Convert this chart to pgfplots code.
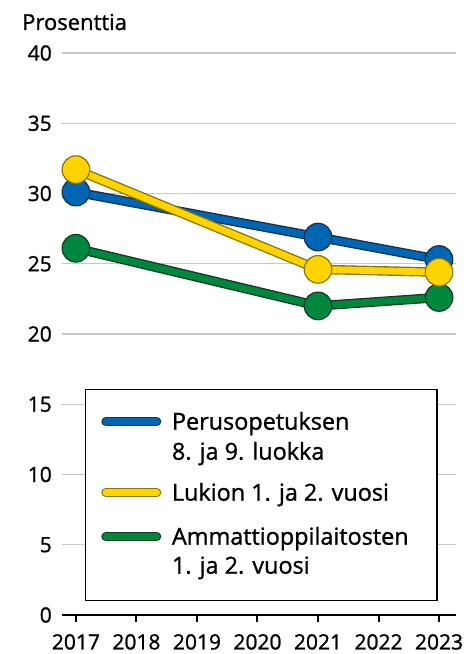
\documentclass[border=0pt]{standalone}
\usepackage{fontspec}
\setmainfont{Open Sans}[RawFeature={embolden=1.1}]
\usepackage{pgfplots}
\usepackage{pgfplotstable}
\pgfplotsset{compat=1.18}
\definecolor{cBlue}{HTML}{0066B3}
\definecolor{dBlue}{HTML}{14304F}
\definecolor{cYel}{HTML}{FFD400}
\definecolor{dYel}{HTML}{8C7400}
\definecolor{cGrn}{HTML}{00873D}
\definecolor{dGrn}{HTML}{0E3D20}
\definecolor{gridc}{HTML}{C8C8C8}

\pgfplotstableread{
year val
2017 30.1
2021 26.9
2023 25.3
}\perus
\pgfplotstableread{
year val
2017 31.7
2021 24.6
2023 24.4
}\lukio
\pgfplotstableread{
year val
2017 26.1
2021 22.0
2023 22.6
}\ammatti

\pgfplotsset{
  leglinestyle/.style 2 args={legend image code/.code={
    \path (0bp,0bp) (60bp,0bp);
    \draw[line width=9bp, #1, line cap=round] (4.5bp,8bp) -- (55.5bp,8bp);
    \draw[line width=6.5bp, #2, line cap=round] (4.5bp,8bp) -- (55.5bp,8bp);
  }},
  outl/.style={forget plot, line width=9.5bp, #1, line join=round},
  inl/.style 2 args={forget plot, line width=6.8bp, #2, line join=round, mark=*, mark size=13.8bp,
     mark options={fill=#2, draw=#1, line width=1.2bp, solid}},
}

\begin{document}
\begin{tikzpicture}
\useasboundingbox (0,0) rectangle (466bp,654bp);
\begin{axis}[
  at={(62bp,39bp)}, anchor=south west,
  scale only axis, width=394bp, height=562bp,
  xmin=2016.77, xmax=2023.28, ymin=0, ymax=40,
  xtick={2017,2018,...,2023}, ytick={0,5,...,40},
  axis x line*=bottom, axis y line*=left,
  x axis line style={black, line width=2bp, -},
  y axis line style={draw=none},
  ymajorgrids, grid style={gridc, line width=1.2bp},
  xtick align=outside,
  x tick style={black, line width=2bp},
  y tick style={draw=none},
  major tick length=7bp,
  tick label style={font=\fontsize{21bp}{25bp}\selectfont},
  /pgf/number format/assume math mode=true,
  /pgf/number format/1000 sep={},
  yticklabel style={inner sep=0pt, xshift=-10bp},
  xticklabel style={inner sep=0pt, anchor=north, yshift=-12bp},
  clip=false,
  legend cell align=left,
  legend style={at={(0.0584,0.4021)}, anchor=north west,
    draw=black, line width=1.3bp, fill=white,
    inner xsep=15bp, inner ysep=0pt, row sep=0pt, column sep=10bp,
    cells={anchor=base west},
    nodes={inner sep=0pt, text depth=},
    font=\fontsize{23.4bp}{28bp}\selectfont},
]
\addlegendimage{leglinestyle={dBlue}{cBlue}}
\addlegendentry{\rule[-12bp]{0pt}{52bp}Perusopetuksen}
\addlegendimage{empty legend}
\addlegendentry{\rule[-12bp]{0pt}{30bp}8. ja 9. luokka}
\addlegendimage{leglinestyle={dYel}{cYel}}
\addlegendentry{\rule[-12bp]{0pt}{41bp}Lukion 1. ja 2. vuosi}
\addlegendimage{leglinestyle={dGrn}{cGrn}}
\addlegendentry{\rule[-11bp]{0pt}{43bp}\makebox[250bp][l]{Ammattioppilaitosten}}
\addlegendimage{empty legend}
\addlegendentry{\rule[-27bp]{0pt}{45bp}1. ja 2. vuosi}

\addplot[outl=dBlue] table[x=year,y=val] {\perus};
\addplot[inl={dBlue}{cBlue}] table[x=year,y=val] {\perus};
\addplot[outl=dGrn] table[x=year,y=val] {\ammatti};
\addplot[inl={dGrn}{cGrn}] table[x=year,y=val] {\ammatti};
\addplot[outl=dYel] table[x=year,y=val] {\lukio};
\addplot[inl={dYel}{cYel}] table[x=year,y=val] {\lukio};

\node[anchor=base west, inner sep=0pt, font=\fontsize{22bp}{26bp}\selectfont]
  at ([xshift=-40bp,yshift=23bp]rel axis cs:0,1) {Prosenttia};
\end{axis}
\end{tikzpicture}
\end{document}
